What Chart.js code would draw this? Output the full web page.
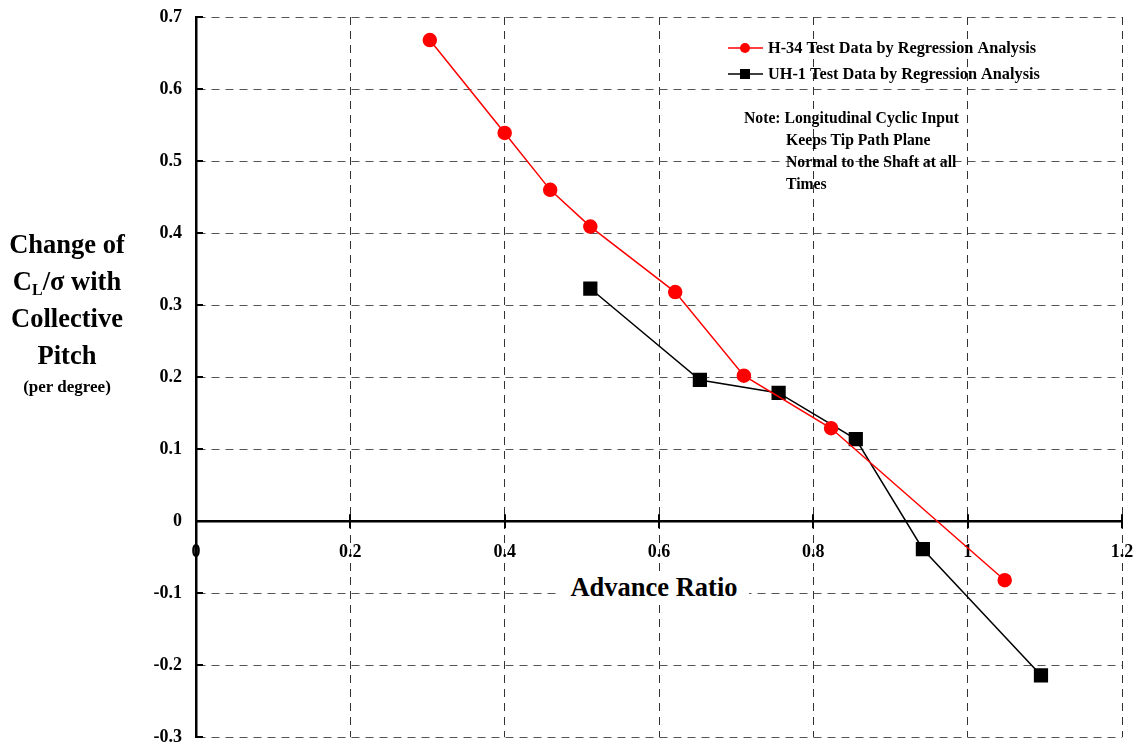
<!DOCTYPE html>
<html>
<head>
<meta charset="utf-8">
<script src="https://cdn.jsdelivr.net/npm/chart.js@4.4.1/dist/chart.umd.min.js"></script>
<style>
  html, body { margin: 0; padding: 0; background: #fff; }
  #wrap { position: relative; width: 1140px; height: 748px; font-family: "Liberation Serif", "Times New Roman", serif; font-weight: bold; color: #000; }
  canvas { position: absolute; left: 0; top: 0; }
  #ytitle { position: absolute; left: 0; top: 226px; width: 134px; text-align: center; font-size: 26.5px; line-height: 37px; }
  #ytitle .small { font-size: 17px; line-height: 26px; display: block; }
  #ytitle sub { font-size: 16px; vertical-align: -5px; line-height: 0; }
  #xtitle { position: absolute; left: 559px; top: 571px; width: 190px; text-align: center; font-size: 26.5px; line-height: 32px; background: #fff; }
  #note { position: absolute; left: 744px; top: 107px; font-size: 15.7px; line-height: 22px; white-space: nowrap; }
  #note .ind { padding-left: 42px; display: block; }
</style>
</head>
<body>
<div id="wrap">
  <canvas id="c" width="1140" height="748"></canvas>
  <div id="ytitle">Change of<br>C<sub>L</sub>/σ with<br>Collective<br>Pitch<span class="small">(per degree)</span></div>
  <div id="xtitle">Advance Ratio</div>
  <div id="note">Note: Longitudinal Cyclic Input<span class="ind">Keeps Tip Path Plane</span><span class="ind">Normal to the Shaft at all</span><span class="ind">Times</span></div>
</div>
<script>
const xTicks = [0, 0.2, 0.4, 0.6, 0.8, 1, 1.2];
const yTicks = [-0.3, -0.2, -0.1, 0, 0.1, 0.2, 0.3, 0.4, 0.5, 0.6, 0.7];

const h34Label = "H-34 Test Data by Regression Analysis";
const h34X = [0.303, 0.400, 0.459, 0.511, 0.621, 0.710, 0.823, 1.048];
const h34Y = [0.668, 0.539, 0.460, 0.409, 0.318, 0.202, 0.129, -0.082];

const uh1Label = "UH-1 Test Data by Regression Analysis";
const uh1X = [0.511, 0.653, 0.755, 0.855, 0.942, 1.095];
const uh1Y = [0.323, 0.196, 0.178, 0.114, -0.039, -0.214];

const toPts = (xs, ys) => xs.map((x, i) => ({ x: x, y: ys[i] }));
const FONT = '"Liberation Serif", "Times New Roman", serif';

const tickMarksPlugin = {
  id: 'tickMarks',
  afterDatasetsDraw(chart) {
    const ctx = chart.ctx;
    const xs = chart.scales.x, ys = chart.scales.y;
    const y0 = ys.getPixelForValue(0);
    const left = chart.chartArea.left;
    ctx.save();
    ctx.strokeStyle = '#000';
    ctx.lineWidth = 2;
    xTicks.forEach(v => {
      const px = Math.round(xs.getPixelForValue(v));
      ctx.beginPath();
      ctx.moveTo(px, y0 - 7);
      ctx.lineTo(px, y0 + 7);
      ctx.stroke();
    });
    yTicks.forEach(v => {
      const py = Math.round(ys.getPixelForValue(v));
      ctx.beginPath();
      ctx.moveTo(left, py);
      ctx.lineTo(left + 7, py);
      ctx.stroke();
    });
    ctx.restore();
  }
};

const legendPlugin = {
  id: 'customLegend',
  afterDraw(chart) {
    const ctx = chart.ctx;
    const items = [
      { label: h34Label, color: '#ff0000', style: 'circle', y: 48 },
      { label: uh1Label, color: '#000000', style: 'rect', y: 74 }
    ];
    ctx.save();
    items.forEach(it => {
      ctx.strokeStyle = it.color;
      ctx.lineWidth = 1.5;
      ctx.beginPath();
      ctx.moveTo(728, it.y);
      ctx.lineTo(763, it.y);
      ctx.stroke();
      ctx.fillStyle = it.color;
      if (it.style === 'circle') {
        ctx.beginPath();
        ctx.arc(745, it.y, 5, 0, Math.PI * 2);
        ctx.fill();
      } else {
        ctx.fillRect(740, it.y - 5, 10, 10);
      }
      ctx.fillStyle = '#000';
      ctx.font = 'bold 16.3px ' + FONT;
      ctx.textBaseline = 'middle';
      ctx.textAlign = 'left';
      ctx.fillText(it.label, 768, it.y + 1);
    });
    ctx.restore();
  }
};

new Chart(document.getElementById('c'), {
  type: 'scatter',
  data: {
    datasets: [
      {
        label: h34Label,
        data: toPts(h34X, h34Y),
        showLine: true,
        borderColor: '#ff0000',
        backgroundColor: '#ff0000',
        borderWidth: 1.5,
        pointStyle: 'circle',
        pointRadius: 6.5,
        pointHoverRadius: 6.5,
        order: 1
      },
      {
        label: uh1Label,
        data: toPts(uh1X, uh1Y),
        showLine: true,
        borderColor: '#000000',
        backgroundColor: '#000000',
        borderWidth: 1.5,
        pointStyle: 'rect',
        pointRadius: 9,
        pointHoverRadius: 9,
        order: 2
      }
    ]
  },
  options: {
    responsive: false,
    animation: false,
    events: [],
    layout: { padding: { left: 0, right: 18, top: 17, bottom: 10 } },
    plugins: { legend: { display: false }, tooltip: { enabled: false } },
    scales: {
      x: {
        type: 'linear',
        position: { y: 0 },
        min: 0, max: 1.2,
        afterBuildTicks(scale) { scale.ticks = xTicks.map(v => ({ value: v })); },
        ticks: {
          color: '#000',
          font: { family: FONT, size: 18, weight: 'bold' },
          padding: 0,
          maxRotation: 0,
          callback: v => (Math.abs(v) < 1e-9 ? '0' : String(Math.round(v * 10) / 10))
        },
        grid: {
          color: '#333',
          lineWidth: 1,
          tickLength: 20,
          tickColor: 'rgba(0,0,0,0)',
          drawTicks: true
        },
        border: { display: true, color: '#000', width: 2.5, dash: [8, 6] }
      },
      y: {
        type: 'linear',
        min: -0.3, max: 0.7,
        afterFit(scale) { scale.width = 196; },
        afterBuildTicks(scale) { scale.ticks = yTicks.map(v => ({ value: v })); },
        ticks: {
          color: '#000',
          font: { family: FONT, size: 18, weight: 'bold' },
          padding: 0,
          callback: v => (Math.abs(v) < 1e-9 ? '0' : v.toFixed(1))
        },
        grid: {
          color: '#555',
          lineWidth: 1,
          drawTicks: true,
          tickLength: 14,
          tickColor: 'rgba(0,0,0,0)'
        },
        border: { display: true, color: '#000', width: 2.5, dash: [8, 6] }
      }
    }
  },
  plugins: [tickMarksPlugin, legendPlugin]
});
</script>
</body>
</html>
